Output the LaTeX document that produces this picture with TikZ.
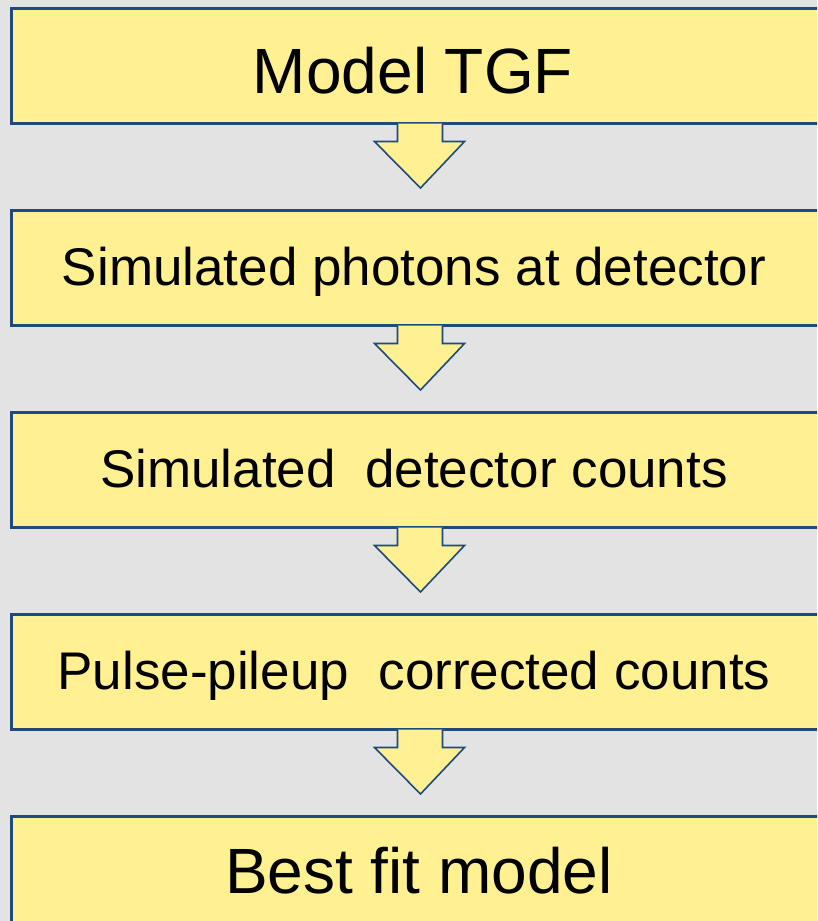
\documentclass[tikz,border=0pt]{standalone}
\usepackage{fontspec}
\setmainfont{Liberation Sans}
\usetikzlibrary{calc}
\definecolor{bg}{RGB}{227,227,227}
\definecolor{boxfill}{RGB}{255,240,145}
\definecolor{boxline}{RGB}{31,74,126}
\tikzset{
  stepbox/.style={draw=boxline, line width=3pt, fill=boxfill, minimum width=810pt, minimum height=115pt, inner sep=0pt, anchor=north west},
  bigtxt/.style={anchor=base, inner sep=0pt, font=\fontsize{64}{70}\selectfont},
  midtxt/.style={anchor=base, inner sep=0pt, font=\fontsize{53}{60}\selectfont},
  blockarrow/.style={draw=boxline, line width=1.6pt, fill=boxfill, line join=miter}
}
\newcommand{\blockarr}[2]{%
  \path[blockarrow] ($(#1.south)+(-19,-1.5)$) -- ++(0,18) -- ++(-23,0)
    -- ($(#2.north)+(4,-21)$) -- ($(#1.south)+(48,16.5)$) -- ++(-22,0) -- ++(0,-18);
}
\begin{document}
\begin{tikzpicture}[x=1pt,y=-1pt]
\useasboundingbox (0,0) rectangle (817,921);
\fill[bg] (0,0) rectangle (817,921);
\clip (0,0) rectangle (817,921);
\node[stepbox] (b1) at (10,7) {};
\node[stepbox] (b2) at (10,209) {};
\node[stepbox] (b3) at (10,411) {};
\node[stepbox] (b4) at (10,613) {};
\node[stepbox] (b5) at (10,815) {};
\node[bigtxt] (t1) at (413,93) {Model TGF};
\node[midtxt] (t2) at (414,285) {Simulated photons at detector};
\node[midtxt] (t3) at (414,487) {Simulated\ \ detector counts};
\node[midtxt] (t4) at (414,689) {Pulse-pileup\ \ corrected counts};
\node[bigtxt] (t5) at (419,893) {Best fit model};
\blockarr{b1}{b2}
\blockarr{b2}{b3}
\blockarr{b3}{b4}
\blockarr{b4}{b5}
\end{tikzpicture}
\end{document}
